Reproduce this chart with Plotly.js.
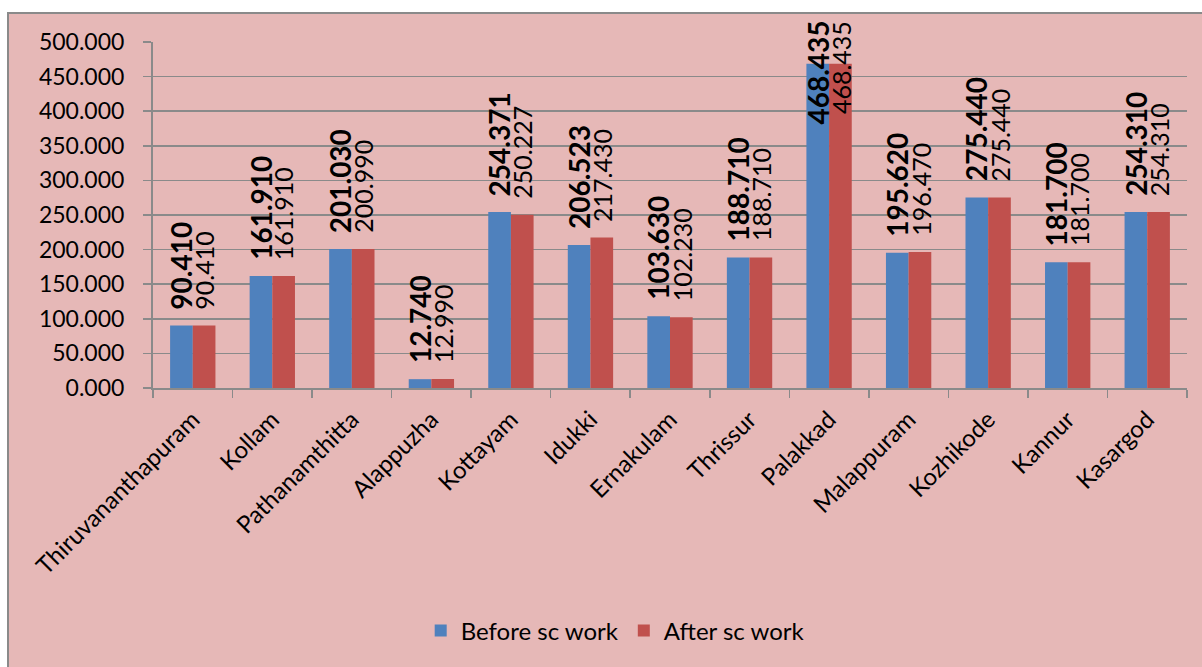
<!DOCTYPE html>
<html>
<head>
<meta charset="utf-8">
<script src="https://cdn.plot.ly/plotly-3.0.1.min.js"></script>
<style>
  html, body { margin: 0; padding: 0; background: #ffffff; overflow: hidden; }
  #chart {
    position: absolute; left: 7px; top: 12px;
    width: 1193px; height: 670px;
    border-top: 2px solid #8a8a8a; border-left: 2px solid #8a8a8a;
    background: #E6B8B7;
  }
</style>
</head>
<body>
<div id="chart"></div>
<script>
// District-wise figures before and after sc work
const districts = ["Thiruvananthapuram", "Kollam", "Pathanamthitta", "Alappuzha", "Kottayam",
  "Idukki", "Ernakulam", "Thrissur", "Palakkad", "Malappuram", "Kozhikode", "Kannur", "Kasargod"];
const beforeWork = [90.410, 161.910, 201.030, 12.740, 254.371, 206.523, 103.630, 188.710,
  468.435, 195.620, 275.440, 181.700, 254.310];
const afterWork = [90.410, 161.910, 200.990, 12.990, 250.227, 217.430, 102.230, 188.710,
  468.435, 196.470, 275.440, 181.700, 254.310];
const seriesNames = ["Before sc work", "After sc work"];
const seriesColors = ["#4F81BD", "#C0504D"];
const yTicks = [0, 50, 100, 150, 200, 250, 300, 350, 400, 450, 500];

const FONT = "Lato, 'Open Sans', sans-serif";
const GRID = "#8a8a8a";

const traces = [beforeWork, afterWork].map((vals, k) => ({
  type: "bar",
  name: seriesNames[k],
  x: districts,
  y: vals,
  marker: { color: seriesColors[k], line: { width: 0 } },
  hoverinfo: "x+y"
}));

// Value labels: vertical text above each bar; a label that would run past
// the top of the chart area is pinned just inside it.
const plotHeightPx = 346;
const yMax = 500;
const pxPerUnit = plotHeightPx / yMax;
const labelGapPx = 15;
const annotations = [];
[beforeWork, afterWork].forEach((vals, k) => {
  const bold = k === 0;
  const size = bold ? 28 : 25;
  vals.forEach((v, i) => {
    const text = v.toFixed(3);
    const estLenPx = text.length * size * 0.55;
    const topPx = v * pxPerUnit + labelGapPx + estLenPx;
    const limitPx = plotHeightPx + 22;
    const base = {
      x: districts[i],
      xref: "x",
      xshift: k === 0 ? -11.5 : 11.5,
      text: bold ? "<b>" + text + "</b>" : text,
      textangle: -90,
      showarrow: false,
      font: { family: FONT, size: size, color: "#000000" },
      borderpad: 0
    };
    if (topPx > limitPx) {
      annotations.push(Object.assign(base, {
        yref: "paper", y: limitPx / plotHeightPx, yanchor: "top"
      }));
    } else {
      annotations.push(Object.assign(base, {
        yref: "y", y: v, yanchor: "bottom", yshift: labelGapPx
      }));
    }
  });
});

const layout = {
  width: 1193,
  height: 670,
  paper_bgcolor: "rgba(0,0,0,0)",
  plot_bgcolor: "rgba(0,0,0,0)",
  margin: { l: 144, r: 15, t: 28, b: 296 },
  barmode: "group",
  bargap: 0.43,
  bargroupgap: 0,
  font: { family: FONT, color: "#000000" },
  showlegend: true,
  legend: {
    orientation: "h",
    x: 0.447, xanchor: "center",
    y: -0.702, yanchor: "middle",
    font: { family: FONT, size: 24, color: "#000000" },
    bgcolor: "rgba(0,0,0,0)",
    itemwidth: 30,
    traceorder: "normal"
  },
  xaxis: {
    type: "category",
    tickson: "boundaries",
    ticks: "outside",
    ticklen: 8,
    tickwidth: 1.5,
    tickcolor: GRID,
    tickangle: -45,
    ticklabelstandoff: 6,
    tickfont: { family: FONT, size: 24, color: "#000000" },
    showline: true,
    linecolor: GRID,
    linewidth: 2,
    showgrid: false,
    zeroline: false,
    fixedrange: true
  },
  yaxis: {
    range: [0, yMax],
    tickmode: "array",
    tickvals: yTicks,
    ticktext: yTicks.map(t => t.toFixed(3)),
    ticks: "outside",
    ticklen: 8,
    tickwidth: 1.5,
    tickcolor: GRID,
    ticklabelstandoff: 14,
    tickfont: { family: FONT, size: 23, color: "#000000" },
    showline: true,
    linecolor: GRID,
    linewidth: 2,
    showgrid: true,
    gridcolor: GRID,
    gridwidth: 1.5,
    zeroline: false,
    fixedrange: true
  },
  annotations: annotations
};

Plotly.newPlot("chart", traces, layout, { displayModeBar: false, staticPlot: true });
</script>
</body>
</html>
